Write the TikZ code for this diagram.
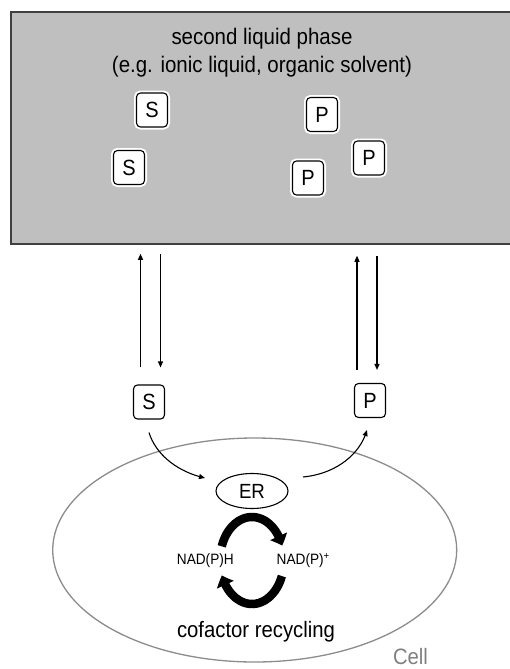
\documentclass[tikz,border=0pt]{standalone}
\usepackage{fontspec}
\setmainfont{Liberation Sans}[FakeStretch=0.91]
\usetikzlibrary{arrows.meta,bending,shapes.geometric}

\begin{document}
\begin{tikzpicture}[x=1pt,y=-1pt,
  phasebox/.style={draw=black!75, line width=1.5pt, fill=black!25,
    minimum width=501pt, minimum height=232pt, inner sep=0pt},
  molbox/.style={draw, line width=1.1pt, rounded corners=4pt, fill=white,
    minimum width=31pt, minimum height=34pt, inner sep=0pt,
    font=\fontsize{22}{26}\selectfont},
  halo/.style={preaction={draw=white, line width=5pt}},
  cellwall/.style={ellipse, draw=black!45, line width=1.3pt,
    minimum width=404pt, minimum height=224pt, inner sep=0pt},
  enzyme/.style={ellipse, draw, line width=1.1pt, fill=white,
    minimum width=72pt, minimum height=35pt, inner sep=0pt,
    font=\fontsize{20.5}{24}\selectfont},
  flux/.style={line width=1.1pt, -{Triangle[length=6pt,width=5pt]}},
  recycle/.style={line width=8.5pt, -{Triangle[length=10pt,width=18pt,bend]}},
  cofactor/.style={inner sep=0pt, font=\fontsize{15}{18}\selectfont},
  caption/.style={inner sep=0pt, font=\fontsize{22.3}{26}\selectfont}]

\useasboundingbox (0,0) rectangle (509,669);
\fill[white] (0,0) rectangle (509,669);

% organic / ionic liquid phase
\node[phasebox] (phase) at (261.5,128) {};
\node[align=center, inner sep=0pt, font=\fontsize{22.5}{27.7}\selectfont] (title) at (262,53)
  {second liquid phase\\(e.g. ionic liquid, organic solvent)};
\node[molbox, halo] (s1) at (152,110) {S};
\node[molbox, halo] (s2) at (129,167.5) {S};
\node[molbox, halo] (p1) at (322,114.5) {P};
\node[molbox, halo] (p2) at (369,158) {P};
\node[molbox, halo] (p3) at (308,178) {P};

% aqueous phase: substrate and product
\node[molbox] (S) at (149,402) {S};
\node[molbox] (P) at (370,400.5) {P};

% exchange between the phases
\draw[flux, shorten <=17pt, shorten >=9pt] ([xshift=-8.5pt]S.north) -- ([xshift=-8.5pt]S.north |- phase.south);
\draw[flux, shorten <=9pt, shorten >=17pt] ([xshift=11.5pt]S.north |- phase.south) -- ([xshift=11.5pt]S.north);
\draw[flux, shorten <=13pt, shorten >=11pt] ([xshift=-13pt]P.north) -- ([xshift=-13pt]P.north |- phase.south);
\draw[flux, shorten <=11pt, shorten >=13pt] ([xshift=7pt]P.north |- phase.south) -- ([xshift=7pt]P.north);

% the cell
\node[cellwall] (cell) at (254.7,550) {};
\node[caption, anchor=base, text=black!50] (celllabel) at (410.5,664.5) {Cell};
\node[enzyme] (ER) at (252,491) {ER};

\coordinate (erin) at ([shift={(-47,-13)}]ER.center);
\coordinate (erout) at ([shift={(51,-14)}]ER.center);
\draw[flux] ([yshift=-13pt]S.south) .. controls (156,455) and (178,472) .. (erin);
\draw[flux] (erout) .. controls (335,474) and (360,455) .. ([shift={(-3,12)}]P.south);

% cofactor recycling loop
\coordinate (loop) at (252,560.5);
\node[cofactor, anchor=base east] (nadph) at (234,564.5) {NAD(P)H};
\node[cofactor, anchor=base west] (nadp) at (276.5,564.5) {NAD(P)\textsuperscript{+}};
\draw[recycle] ([shift={(-30.26,-14.16)}]loop) arc[start angle=-161, end angle=-20, x radius=32, y radius=43.5];
\draw[recycle] ([shift={(29.87,15.59)}]loop) arc[start angle=21, end angle=160, x radius=32, y radius=43.5];
\node[caption, anchor=base] (recycling) at (256,637) {cofactor recycling};
\end{tikzpicture}
\end{document}
